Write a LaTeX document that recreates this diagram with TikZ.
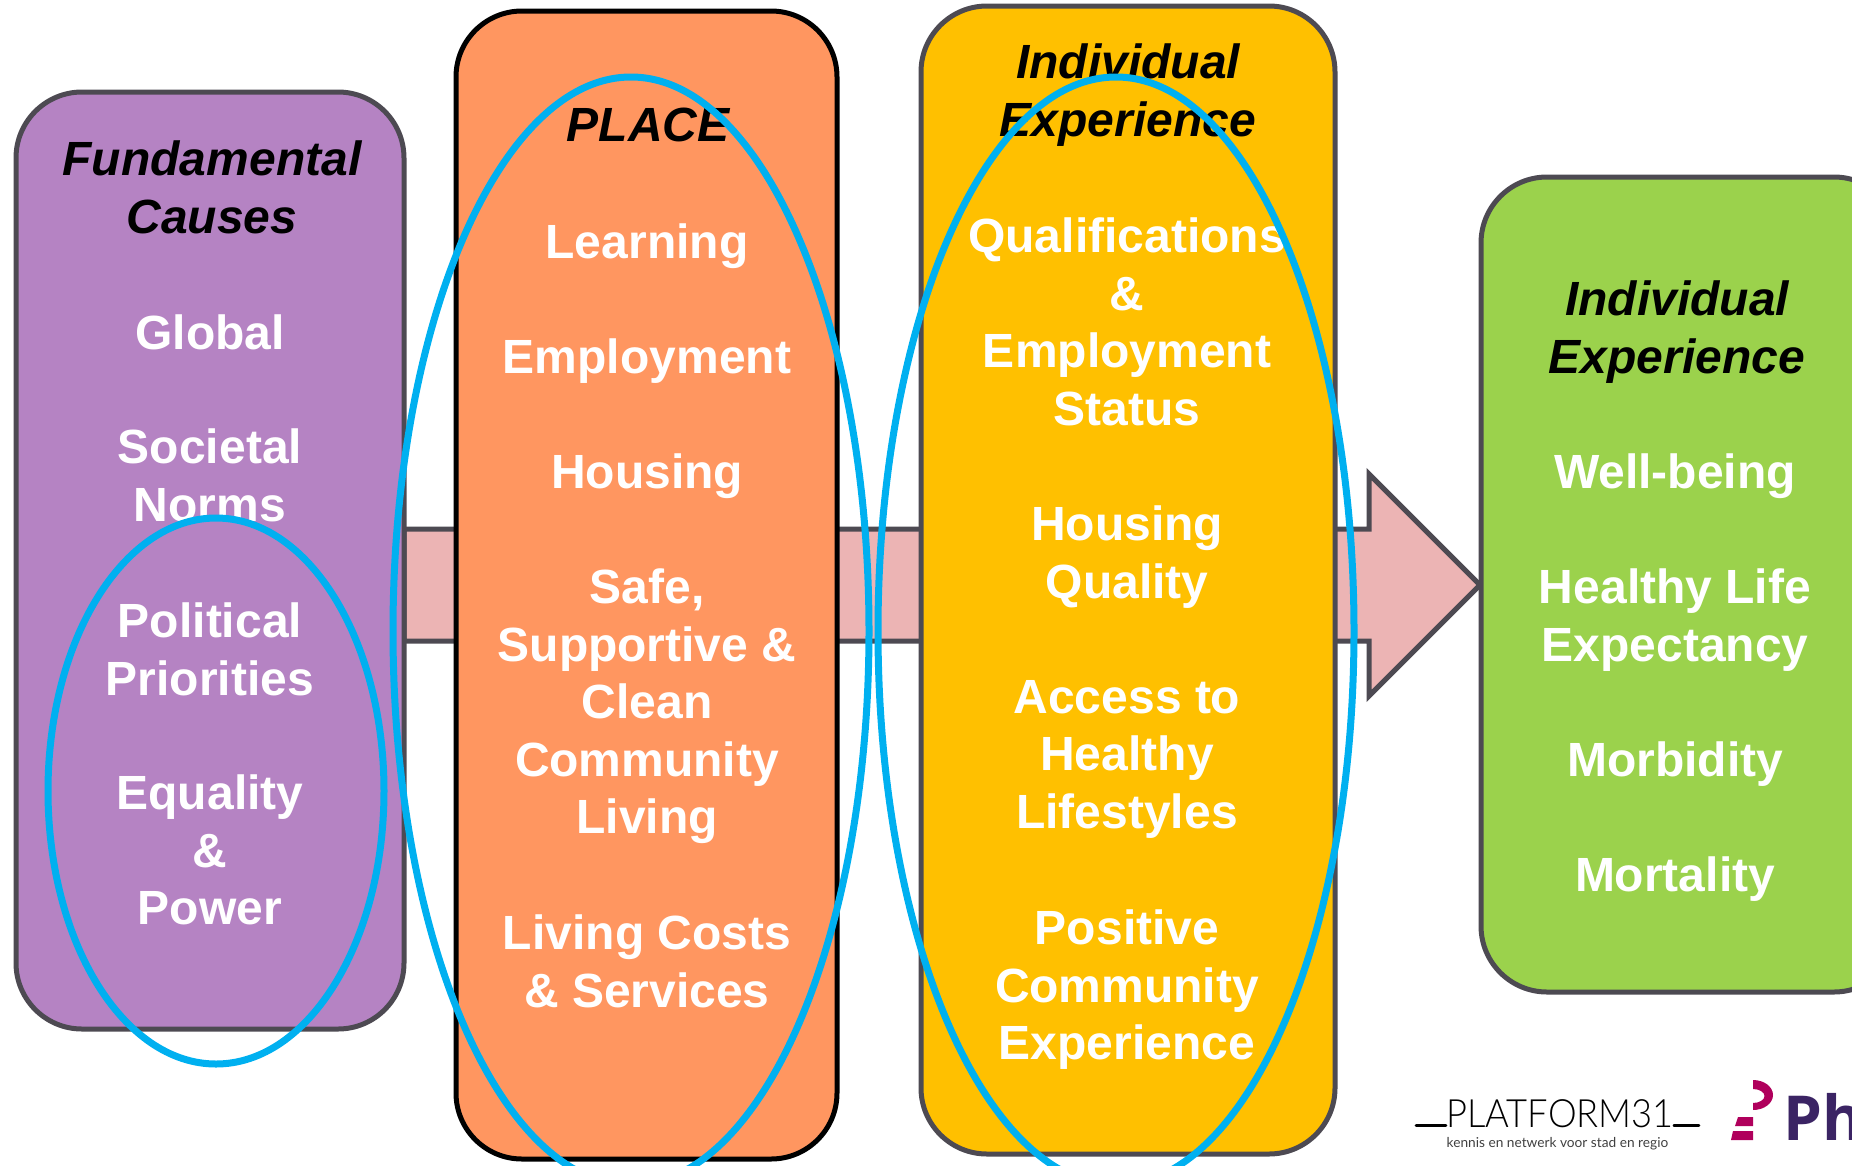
\documentclass[tikz,border=0pt]{standalone}
\usepackage{fontspec}
\setmainfont{Liberation Sans}
\newfontfamily\logofont{Lato Light}
\newfontfamily\logosubfont{Lato}
\newfontfamily\phfont{Open Sans}
\definecolor{edgegray}{HTML}{4D4A52}
\definecolor{purplefill}{HTML}{B583C3}
\definecolor{orangefill}{HTML}{FF9660}
\definecolor{yellowfill}{HTML}{FFC000}
\definecolor{greenfill}{HTML}{9BD24C}
\definecolor{pinkfill}{HTML}{ECB4B4}
\definecolor{ringblue}{HTML}{00B0F0}
\definecolor{phmagenta}{HTML}{B0005C}
\definecolor{phpurple}{HTML}{3B2464}
\tikzset{
  x=1pt,y=-1pt,
  panel/.style={line width=5pt,rounded corners=66pt},
  ring/.style={draw=ringblue,line width=7pt},
  itemtext/.style={anchor=north,inner sep=0pt,align=center,text=white,
    font=\fontsize{48}{57.5}\selectfont\bfseries,
    execute at begin node={\rule{0pt}{40pt}}},
  titletext/.style={itemtext,text=black,
    font=\fontsize{48}{57.5}\selectfont\bfseries\itshape},
}
\begin{document}
\begin{tikzpicture}
\useasboundingbox (0,0) rectangle (1852,1165);
\clip (0,0) rectangle (1852,1165);
% big arrow
\draw[edgegray,line width=5pt,fill=pinkfill,line join=miter]
  (404,529) -- (1369,529) -- (1369,474) -- (1480,585) -- (1369,696) -- (1369,641) -- (404,641) -- cycle;
% panels
\draw[panel,draw=edgegray,fill=purplefill] (16,92) rectangle (404,1029);
\draw[panel,draw=black,fill=orangefill] (456,11) rectangle (837,1159);
\draw[panel,draw=edgegray,fill=yellowfill] (921,6) rectangle (1335,1154);
\draw[panel,draw=edgegray,fill=greenfill] (1481,177) rectangle (1900,992);
% column 1
\node[titletext] (t1) at (212,141) {Fundamental\\Causes};
\node[itemtext] (a1) at (210,309) {Global};
\node[itemtext] (a2) at (210,429) {Societal\\Norms};
\node[itemtext] (a3) at (210,603) {Political\\Priorities};
\node[itemtext] (a4) at (210,775) {Equality\\\&\\Power};
% column 2
\node[titletext] (t2) at (648,101) {PLACE};
\node[itemtext] (b1) at (647,218) {Learning};
\node[itemtext] (b2) at (647,333) {Employment};
\node[itemtext] (b3) at (647,448) {Housing};
\node[itemtext] (b4) at (647,569) {Safe,\\Supportive \&\\Clean\\Community\\Living};
\node[itemtext] (b5) at (647,915) {Living Costs\\\& Services};
% column 3
\node[titletext] (t3) at (1128,44) {Individual\\Experience};
\node[itemtext] (c1) at (1127,218) {Qualifications\\\&\\Employment\\Status};
\node[itemtext] (c2) at (1127,506) {Housing\\Quality};
\node[itemtext] (c3) at (1127,680) {Access to\\Healthy\\Lifestyles};
\node[itemtext] (c4) at (1127,910) {Positive\\Community\\Experience};
% column 4
\node[titletext] (t4) at (1677,281) {Individual\\Experience};
\node[itemtext] (d1) at (1675,448) {Well-being};
\node[itemtext] (d2) at (1675,569) {Healthy Life\\Expectancy};
\node[itemtext] (d3) at (1675,736) {Morbidity};
\node[itemtext] (d4) at (1675,851) {Mortality};
% rings
\draw[ring] (216,791) ellipse (168 and 273);
\draw[ring] (631,631) ellipse (238 and 554);
\draw[ring] (1116,631) ellipse (238 and 554);
% logo PLATFORM31
\node[inner sep=0pt,anchor=base west,font=\logofont\fontsize{39}{39}\selectfont] (pf) at (1446,1127) {\scalebox{.93}[1]{PLATFORM31}};
\node[inner sep=0pt,anchor=base,font=\logosubfont\fontsize{13.7}{14}\selectfont,text=black!75] (pfsub) at (1557.5,1147) {kennis en netwerk voor stad en regio};
\coordinate (pfl) at (1416,1125.5);
\coordinate (pfr) at (1699,1125.5);
\draw[line width=2.8pt,line cap=round] (pfl) -- (pf.west |- pfl);
\draw[line width=2.8pt,line cap=round] (pf.east |- pfr) -- (pfr);
% logo Ph
\fill[phmagenta] (1753,1080) arc[start angle=-90,end angle=90,x radius=20,y radius=15] -- (1753,1103) arc[start angle=90,end angle=-90,x radius=11.5,y radius=7] -- cycle;
\fill[phmagenta] (1738,1117) -- (1753,1117) -- (1753,1126) -- (1735,1126) -- cycle;
\fill[phmagenta] (1733,1131) -- (1753,1131) -- (1753,1140) -- (1731,1140) -- cycle;
\node[inner sep=0pt,anchor=base west,text=phpurple,font=\phfont\fontsize{62}{62}\selectfont\bfseries] (ph) at (1783,1140) {Ph};
\end{tikzpicture}
\end{document}
